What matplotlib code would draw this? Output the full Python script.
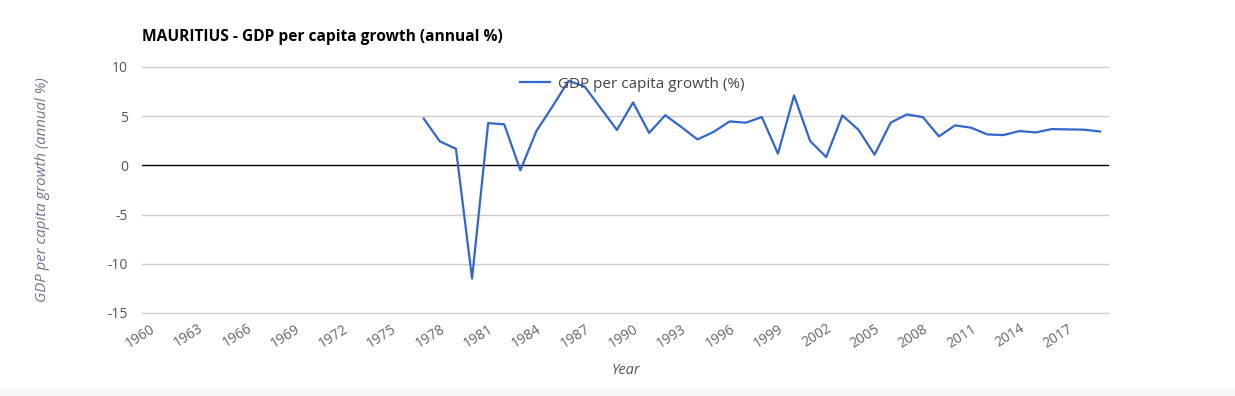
import matplotlib
matplotlib.use("Agg")
import matplotlib.pyplot as plt
import numpy as np
from matplotlib.patches import Rectangle

years = list(range(1960, 2020))
growth_start_year = 1977
growth = [4.75, 2.44, 1.69, -11.5, 4.3, 4.17, -0.5, 3.5, 6.0, 8.6,
          8.0, 5.8, 3.6, 6.4, 3.3, 5.1, 3.9, 2.64, 3.4, 4.47,
          4.34, 4.91, 1.19, 7.11, 2.47, 0.85, 5.08, 3.62, 1.09, 4.34,
          5.18, 4.91, 2.95, 4.07, 3.83, 3.15, 3.08, 3.49, 3.35, 3.69,
          3.66, 3.63, 3.45]
tick_years = years[::3]
y_ticks = [-15, -10, -5, 0, 5, 10]

title = "MAURITIUS - GDP per capita growth (annual %)"
series_name = "GDP per capita growth (%)"
y_label = "GDP per capita growth (annual %)"
x_label = "Year"

plt.rcParams['font.family'] = ['Open Sans', 'DejaVu Sans']

W, H = 1235, 396
fig = plt.figure(figsize=(W / 100, H / 100), dpi=100)
fig.patch.set_facecolor('white')
fig.patches.append(Rectangle((0, 0), 1, 8 / H, transform=fig.transFigure,
                             facecolor='#f7f7f7', edgecolor='none', zorder=0))

ax = fig.add_axes([142 / W, 1 - 313 / H, (1108 - 142) / W, (313 - 67) / H])
ax.set_facecolor('white')

pos = np.arange(len(years))
start = years.index(growth_start_year)
xs = pos[start:start + len(growth)]
ax.plot(xs, growth, color='#3366cc', lw=1.6, label=series_name, zorder=3)

ax.set_xlim(-0.5, len(years) - 0.5)
ax.set_ylim(-15, 10)
ax.set_yticks(y_ticks)
ax.set_yticklabels([str(v) for v in y_ticks])
for v in y_ticks:
    if v == 0:
        ax.axhline(v, color='black', lw=1.0, zorder=2, clip_on=False)
    else:
        ax.axhline(v, color='#cccccc', lw=1.0, zorder=1, clip_on=False)

ax.set_xticks([years.index(y) for y in tick_years])
ax.set_xticklabels([str(y) for y in tick_years], rotation=32, ha='right',
                   rotation_mode='anchor')
ax.tick_params(axis='both', length=0, labelsize=10)
ax.tick_params(axis='x', pad=6, colors='#666666')
ax.tick_params(axis='y', pad=10, colors='#555555')
for s in ax.spines.values():
    s.set_visible(False)

fig.text(142 / W, 1 - 37 / H, title, fontsize=11.2, fontweight='bold',
         color='black', ha='left', va='center')
fig.text(43 / W, 1 - 190 / H, y_label, fontsize=10.8, style='italic',
         color='#747096', rotation=90, ha='center', va='center')
fig.text(626 / W, 1 - 371 / H, x_label, fontsize=10.5, style='italic',
         color='#555555', ha='center', va='center')

leg = ax.legend(loc='center', bbox_to_anchor=(632 / W, 1 - 84 / H),
                bbox_transform=fig.transFigure, frameon=False, fontsize=11,
                handlelength=2.0, handletextpad=0.5)
for t in leg.get_texts():
    t.set_color('#444444')

fig.savefig('out.png', dpi=100)
